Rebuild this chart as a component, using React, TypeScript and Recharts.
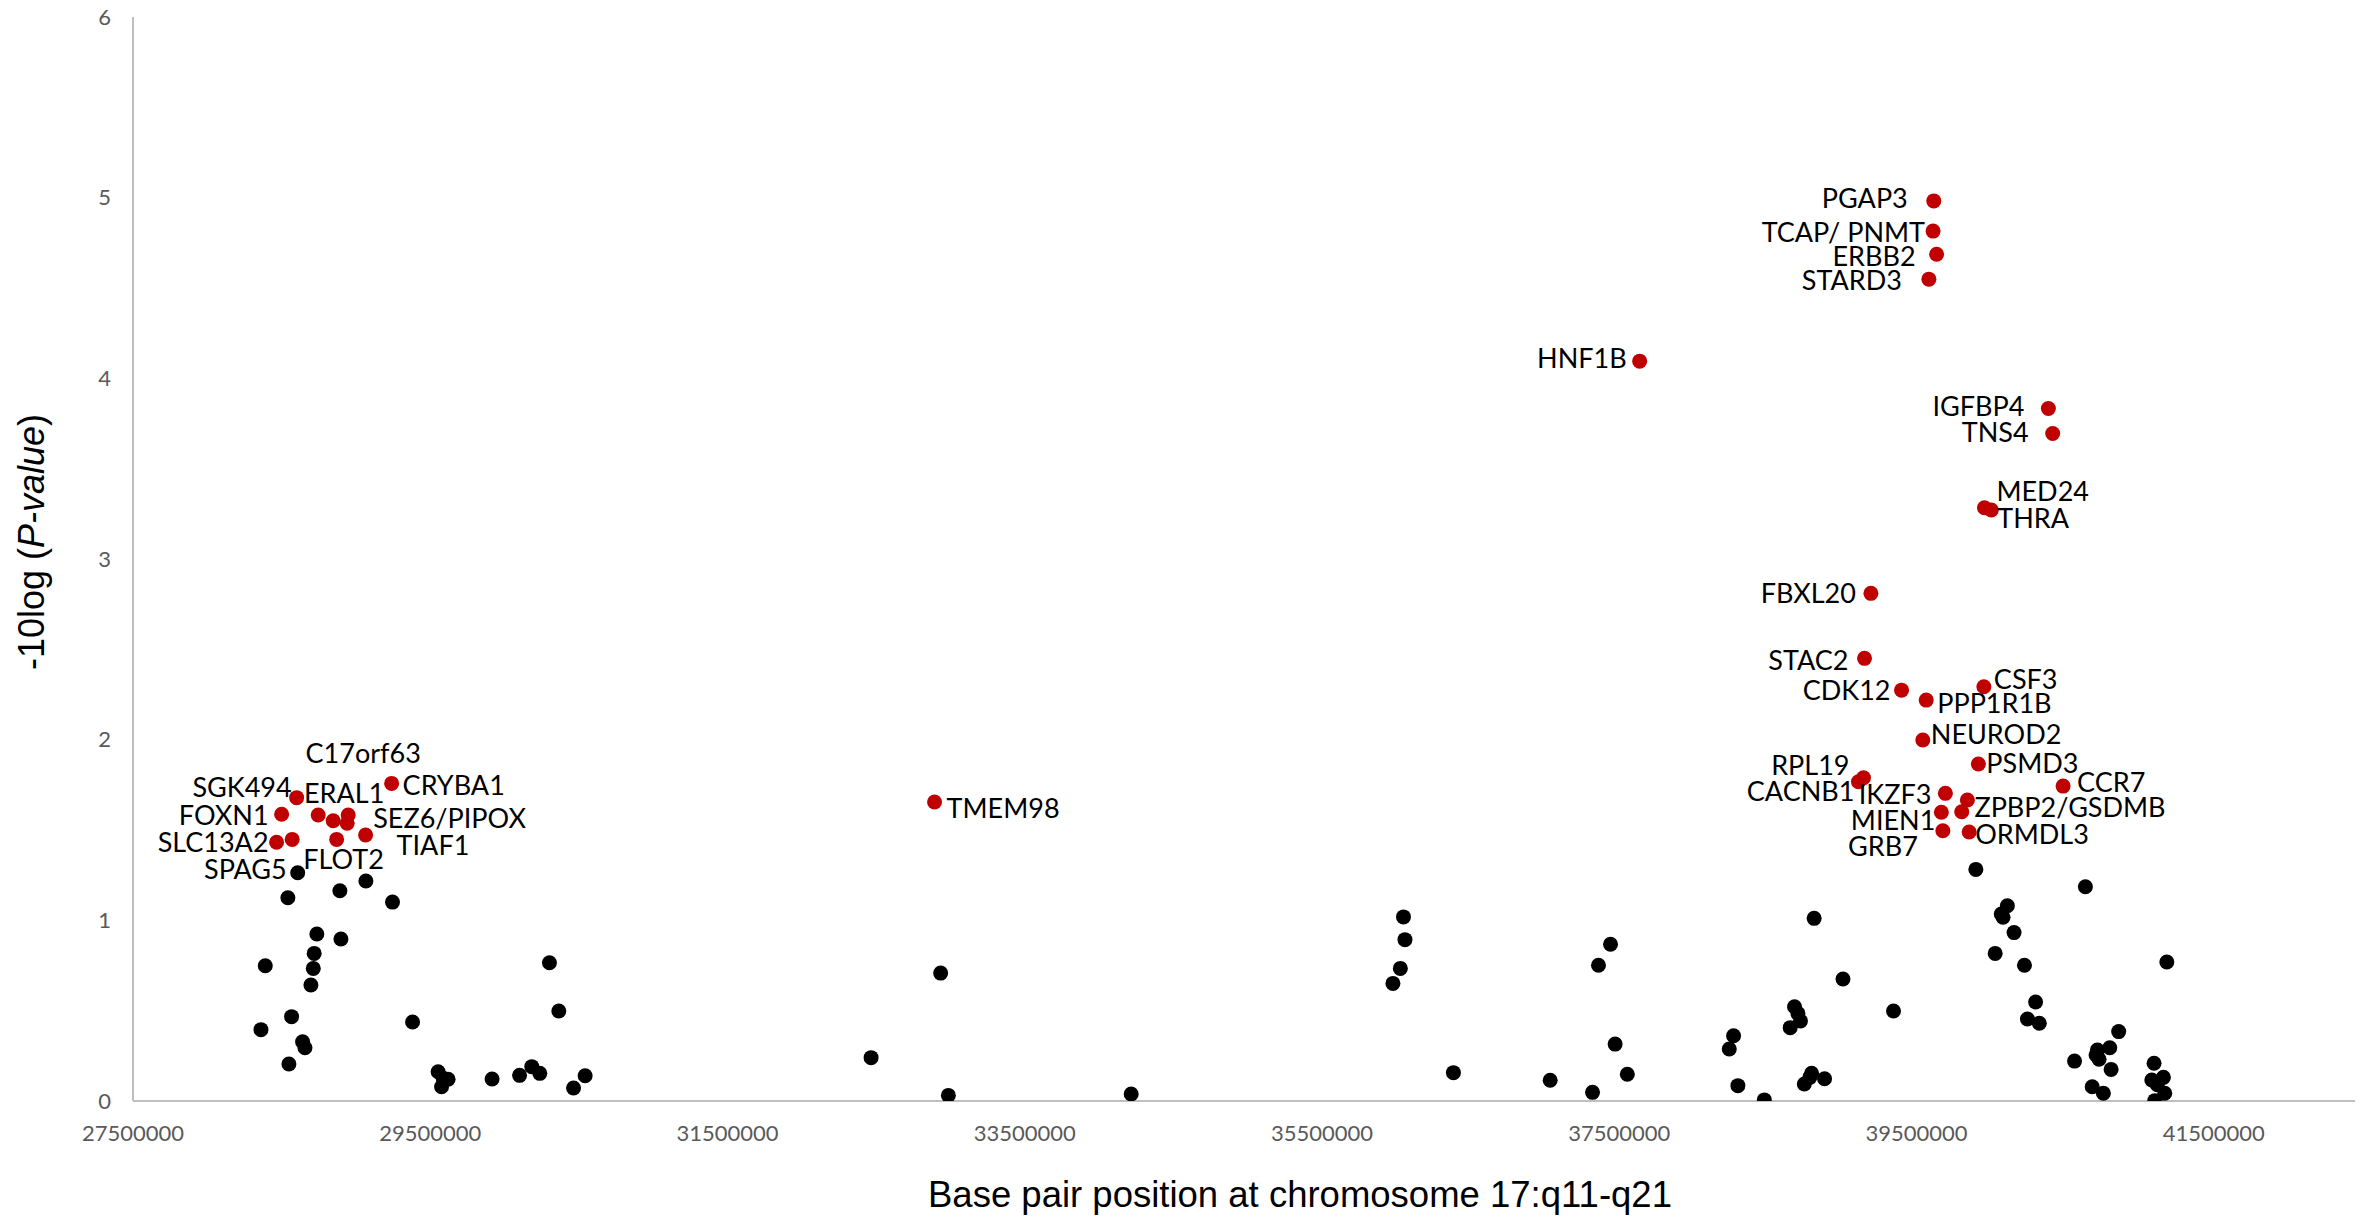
import React from 'react';
import { ScatterChart, Scatter, XAxis, YAxis, Label } from 'recharts';

// ---- axis ticks ----
const xTicks = [27500000, 29500000, 31500000, 33500000, 35500000, 37500000, 39500000, 41500000];
const yTicks = [0, 1, 2, 3, 4, 5, 6];

// ---- significant genes (red) ----
const hitGenes = [
  'CRYBA1', 'SGK494', 'FOXN1', 'ERAL1', 'C17orf63', 'SEZ6/PIPOX', '', 'TIAF1', 'FLOT2', 'SLC13A2', '',
  'TMEM98', 'HNF1B',
  'PGAP3', 'TCAP/ PNMT', 'ERBB2', 'STARD3', 'IGFBP4', 'TNS4', 'MED24', 'THRA',
  'FBXL20', 'STAC2', 'CDK12', 'PPP1R1B', 'CSF3', 'NEUROD2', 'PSMD3', 'RPL19', 'CACNB1', 'CCR7',
  'IKZF3', 'ZPBP2/GSDMB', '', 'MIEN1', 'GRB7', 'ORMDL3',
];
const hitPositions = [
  29240000, 28601000, 28500000, 28746000, 28847000, 28948000, 28941000, 29065000, 28870000, 28466000, 28571000,
  32893000, 37637000,
  39616000, 39611000, 39635000, 39583000, 40387000, 40416000, 39957000, 40003000,
  39193000, 39150000, 39399000, 39565000, 39953000, 39542000, 39916000, 39143000, 39109000, 40486000,
  39694000, 39842000, 39804000, 39667000, 39677000, 39854000,
];
const hitScores = [
  1.758, 1.679, 1.587, 1.583, 1.551, 1.583, 1.537, 1.472, 1.448, 1.432, 1.448,
  1.655, 4.095,
  4.982, 4.815, 4.687, 4.549, 3.833, 3.695, 3.284, 3.271,
  2.81, 2.45, 2.274, 2.219, 2.293, 1.998, 1.865, 1.789, 1.767, 1.743,
  1.703, 1.666, 1.601, 1.598, 1.496, 1.489,
];

// ---- other genes (black) ----
const otherPositions = [
  28608000, 29067000, 28892000, 28542000, 29246000, 28737000, 28899000, 28719000, 28390000, 28713000,
  28697000, 30302000, 30365000, 28567000, 29381000, 28361000, 28641000, 28657000, 28549000, 29553000,
  29587000, 29620000, 29576000, 29916000, 30101000, 30183000, 30237000, 30542000, 30464000,
  32934000, 32466000, 32986000, 34216000, 36048000, 36058000, 36027000, 35977000, 36384000, 37035000,
  37360000, 37441000, 37472000, 37554000, 37320000,
  39899000, 40636000, 38811000, 40111000, 40070000, 40082000, 40156000, 40029000, 40226000, 41184000,
  39005000, 39345000, 40301000, 40246000, 40326000, 38679000, 38702000, 38719000, 38650000, 38269000,
  38240000, 38298000, 38476000, 38794000, 38745000, 38782000, 38881000, 40563000, 40717000, 40708000,
  40728000, 40800000, 40860000, 40809000, 40682000, 40757000, 41098000, 41161000, 41083000, 41120000,
  41170000, 41103000,
];
const otherScores = [
  1.263, 1.218, 1.164, 1.125, 1.101, 0.924, 0.897, 0.817, 0.749, 0.734,
  0.642, 0.765, 0.498, 0.467, 0.437, 0.395, 0.328, 0.295, 0.205, 0.162,
  0.126, 0.12, 0.079, 0.122, 0.142, 0.19, 0.153, 0.14, 0.072,
  0.708, 0.24, 0.031, 0.039, 1.019, 0.893, 0.734, 0.651, 0.157, 0.115,
  0.751, 0.868, 0.315, 0.148, 0.048,
  1.282, 1.186, 1.011, 1.081, 1.035, 1.017, 0.932, 0.817, 0.751, 0.769,
  0.675, 0.498, 0.548, 0.454, 0.43, 0.522, 0.485, 0.443, 0.406, 0.361,
  0.288, 0.085, 0.006, 0.153, 0.094, 0.131, 0.123, 0.221, 0.282, 0.255,
  0.231, 0.295, 0.384, 0.175, 0.079, 0.043, 0.209, 0.131, 0.116, 0.09,
  0.043, 0.002,
];
const otherGeneLabels: Record<number, string> = { 0: 'SPAG5' };

// ---- label placement (styling): side, dx, dy from the marker centre ----
type Side = 'left' | 'right' | 'center';
const labelLayout: Record<string, [Side, number, number]> = {
  CRYBA1: ['right', 11, 2],
  SGK494: ['left', -5, -10],
  FOXN1: ['left', -13, 1],
  ERAL1: ['center', 26, -22],
  C17orf63: ['center', 30, -67],
  'SEZ6/PIPOX': ['right', 25, 3],
  TIAF1: ['right', 31, 10],
  FLOT2: ['center', 7, 20],
  SLC13A2: ['left', -8, 0],
  SPAG5: ['left', -11, -3],
  TMEM98: ['right', 12, 6],
  HNF1B: ['left', -13, -3],
  PGAP3: ['left', -26, -3],
  'TCAP/ PNMT': ['left', -8, 1],
  ERBB2: ['left', -21, 2],
  STARD3: ['left', -27, 1],
  IGFBP4: ['left', -24, -2],
  TNS4: ['left', -24, -1],
  MED24: ['right', 12, -16],
  THRA: ['right', 6, 8],
  FBXL20: ['left', -15, 0],
  STAC2: ['left', -16, 2],
  CDK12: ['left', -11, 0],
  PPP1R1B: ['right', 11, 3],
  CSF3: ['right', 10, -7],
  NEUROD2: ['right', 8, -6],
  PSMD3: ['right', 8, -1],
  RPL19: ['left', -14, -12],
  CACNB1: ['left', -4, 10],
  CCR7: ['right', 14, -4],
  IKZF3: ['left', -14, 1],
  'ZPBP2/GSDMB': ['right', 7, 7],
  MIEN1: ['left', -6, 8],
  GRB7: ['left', -25, 16],
  ORMDL3: ['right', 6, 2],
};

const hits = hitGenes.map((gene, i) => ({ x: hitPositions[i], y: hitScores[i], gene }));
const others = otherPositions.map((x, i) => ({ x, y: otherScores[i], gene: otherGeneLabels[i] ?? '' }));
const labelled = [...hits, ...others].filter((d) => d.gene);

const LABEL_FONT = 27;
const TICK_FONT = 22;
const DOT_R = 7.5;

const makeDot = (color: string) => (props: any) => (
  <circle cx={props.cx} cy={props.cy} r={DOT_R} fill={color} />
);
const BlackDot = makeDot('#000000');
const RedDot = makeDot('#C00000');

const GeneLabel = (props: any) => {
  const { cx, cy, payload } = props;
  const gene = payload?.gene;
  const lay = gene ? labelLayout[gene] : undefined;
  if (!lay) return <g />;
  const [side, dx, dy] = lay;
  const anchor = side === 'left' ? 'end' : side === 'right' ? 'start' : 'middle';
  return (
    <text
      x={cx + dx}
      y={cy + dy + 0.358 * LABEL_FONT}
      textAnchor={anchor}
      fontFamily="Lato, 'Open Sans', sans-serif"
      fontSize={LABEL_FONT}
      fill="#000000"
    >
      {gene}
    </text>
  );
};

const XTitle = (props: any) => {
  const vb = props.viewBox || {};
  return (
    <text
      x={vb.x + vb.width / 2 + 56}
      y={vb.y + 106}
      textAnchor="middle"
      fontFamily="'Liberation Sans', Arial, sans-serif"
      fontSize={36.5}
      fill="#000000"
    >
      Base pair position at chromosome 17:q11-q21
    </text>
  );
};

const YTitle = (props: any) => {
  const vb = props.viewBox || {};
  const cx = vb.x + 44;
  const cy = vb.y + vb.height / 2 - 17;
  return (
    <text
      x={cx}
      y={cy}
      transform={`rotate(-90, ${cx}, ${cy})`}
      textAnchor="middle"
      fontFamily="'Liberation Sans', Arial, sans-serif"
      fontSize={36}
      fill="#000000"
    >
      <tspan>-10log (</tspan>
      <tspan fontStyle="italic">P-value</tspan>
      <tspan>)</tspan>
    </text>
  );
};

const axisLine = { stroke: '#bfbfbf', strokeWidth: 2 };
const tickStyle = { fontFamily: "Lato, 'Open Sans', sans-serif", fontSize: TICK_FONT, fill: '#595959' };

export default function App() {
  return (
    <div style={{ position: 'absolute', left: 0, top: 0, width: 2372, height: 1218, background: '#ffffff' }}>
      <ScatterChart width={2372} height={1218} margin={{ top: 17, right: 17, bottom: 0, left: 0 }}>
        <XAxis
          type="number"
          dataKey="x"
          domain={[27500000, 42450000]}
          ticks={xTicks}
          interval={0}
          allowDataOverflow
          height={117}
          axisLine={axisLine}
          tickLine={false}
          tickSize={0}
          tickMargin={24}
          tick={tickStyle}
        >
          <Label content={XTitle} />
        </XAxis>
        <YAxis
          type="number"
          dataKey="y"
          domain={[0, 6]}
          ticks={yTicks}
          interval={0}
          allowDataOverflow
          width={133}
          axisLine={axisLine}
          tickLine={false}
          tickSize={0}
          tickMargin={22}
          tick={tickStyle}
        >
          <Label content={YTitle} />
        </YAxis>
        <Scatter data={others} shape={BlackDot} isAnimationActive={false} />
        <Scatter data={hits} shape={RedDot} isAnimationActive={false} />
        <Scatter data={labelled} shape={GeneLabel} isAnimationActive={false} />
      </ScatterChart>
    </div>
  );
}
